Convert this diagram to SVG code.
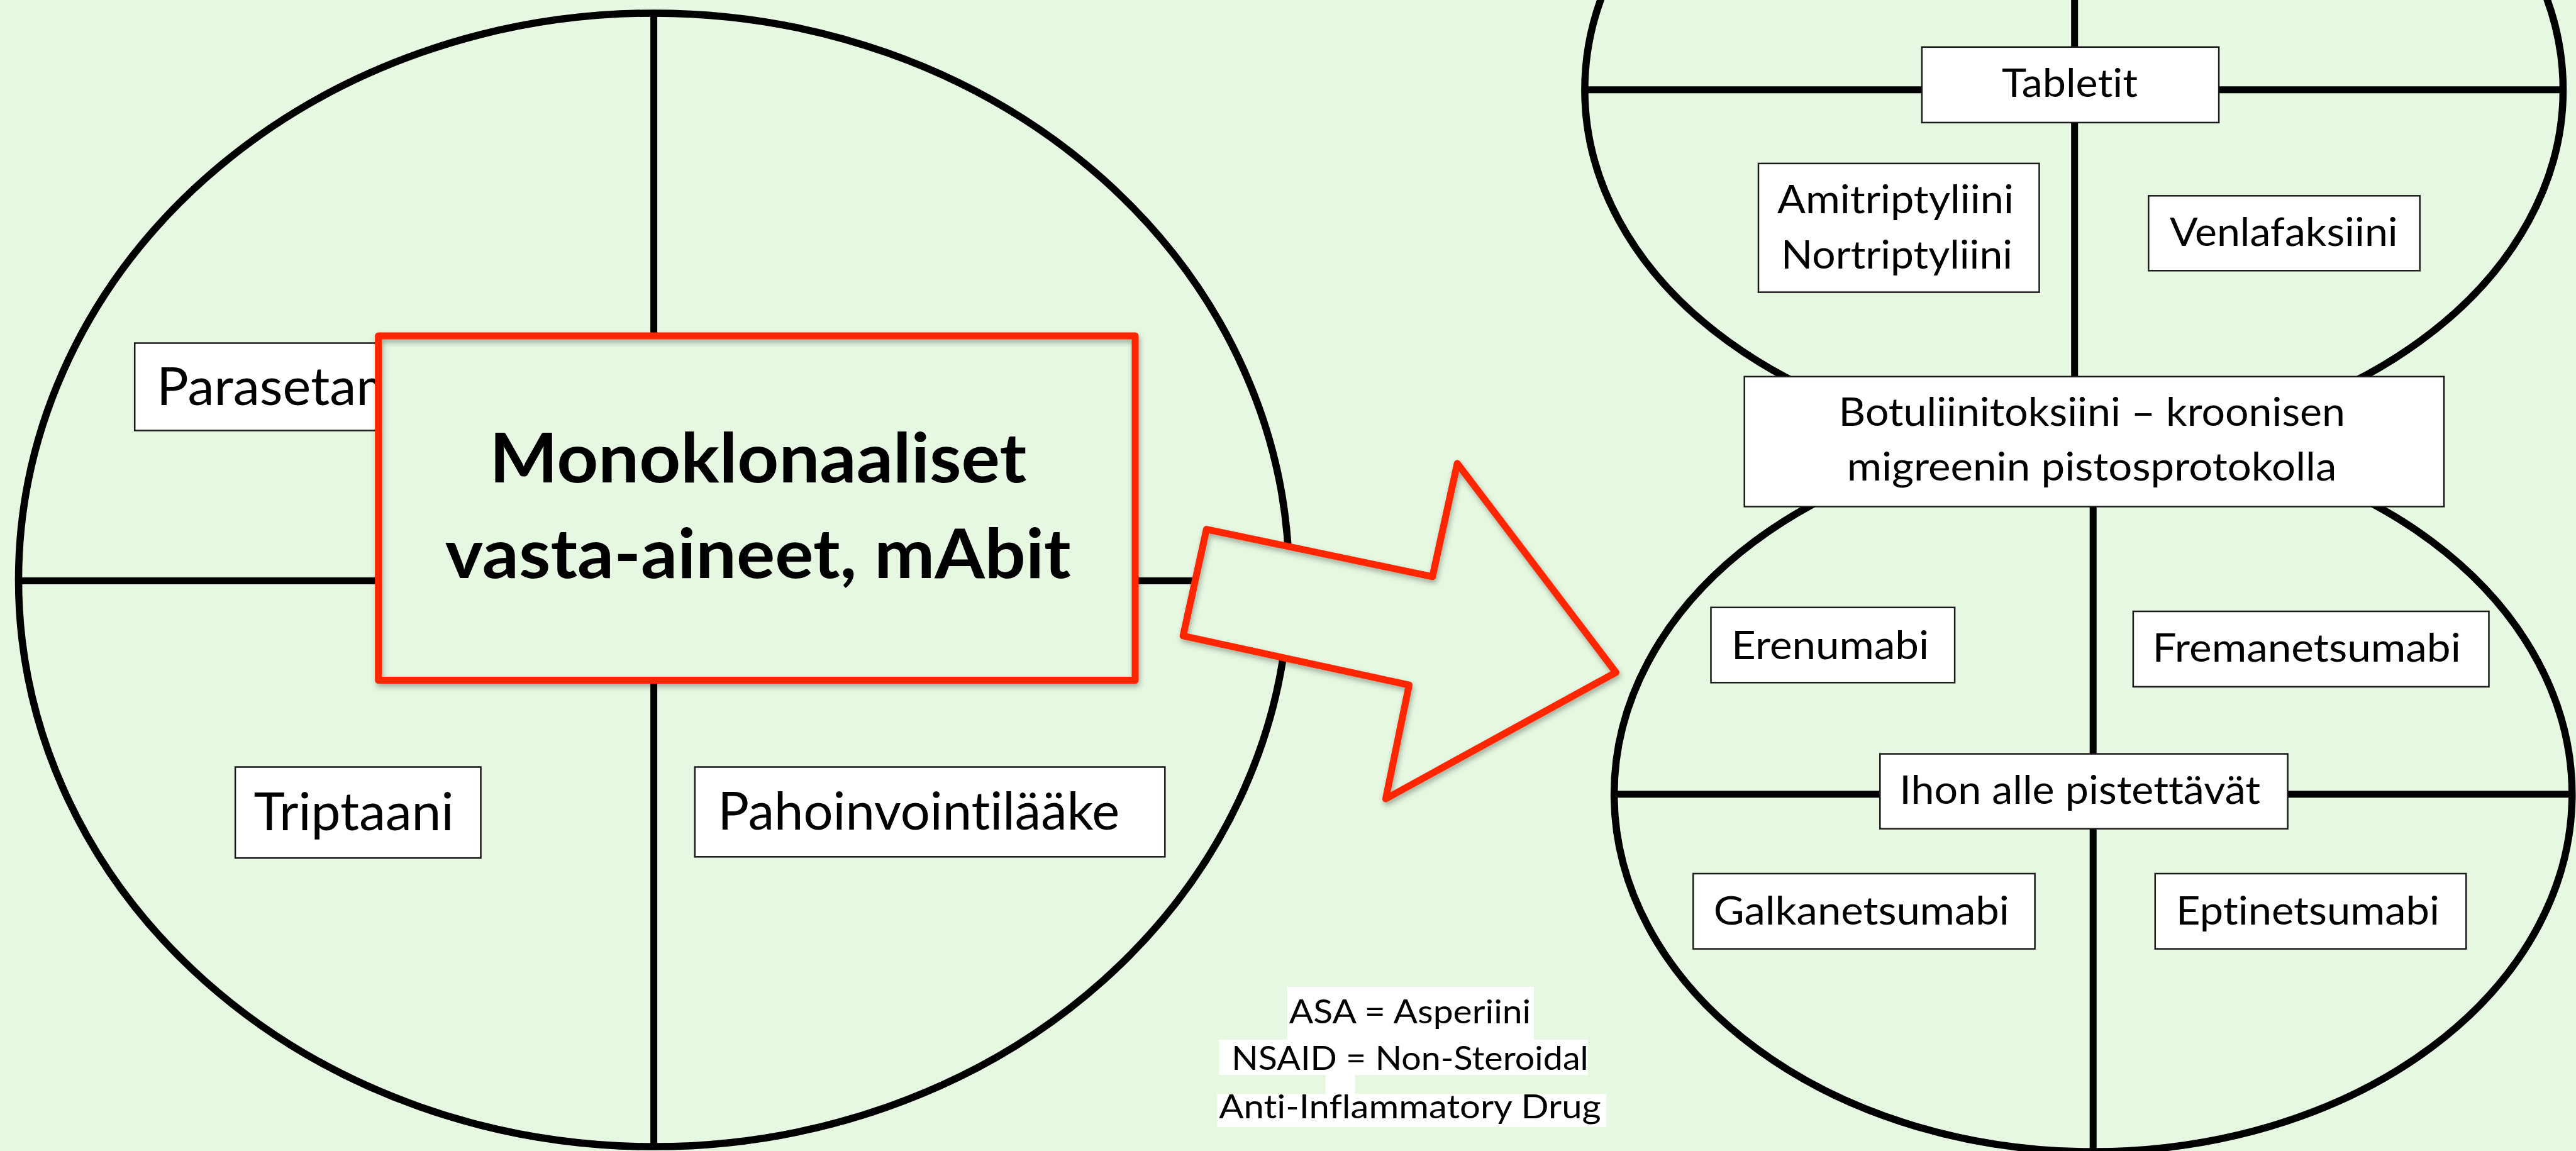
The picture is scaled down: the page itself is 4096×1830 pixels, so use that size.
<svg xmlns="http://www.w3.org/2000/svg" width="4096" height="1830" viewBox="0 0 4096 1830">
  <defs>
    <style>
      .bg { fill: #e6f8e1; }
      .ring { fill: #e6f8e1; stroke: #000; stroke-width: 11.5; }
      .rule { fill: none; stroke: #000; stroke-width: 11; }
      .box { fill: #fff; stroke: #1a1a1a; stroke-width: 2.5; }
      text { font-variant-ligatures: none; font-feature-settings: "liga" 0, "clig" 0, "dlig" 0; }
      .lbl { font-family: "Lato", "Liberation Sans", sans-serif; font-size: 83px; fill: #000; text-anchor: middle; }
      .lbl-r { font-size: 62px; }
      .note { font-family: "Lato", "Liberation Sans", sans-serif; font-size: 52px; fill: #000; text-anchor: middle; }
      .hero { font-family: "Lato", "Liberation Sans", sans-serif; font-weight: 700; font-size: 109px; fill: #000; text-anchor: middle; }
      .red-fill { fill: #e6f8e1; stroke: none; }
      .red-line { fill: none; stroke: #ff2600; stroke-width: 11; stroke-linejoin: round; }
    </style>
    <filter id="soft-shadow" x="-10%" y="-10%" width="120%" height="120%">
      <feDropShadow dx="2" dy="5" stdDeviation="4" flood-color="#000" flood-opacity="0.3"/>
    </filter>
  </defs>

  <rect class="bg" x="0" y="0" width="4096" height="1830"/>

  <!-- Left: acute-treatment circle -->
  <g id="acute-circle">
    <ellipse class="ring" cx="1039.6" cy="922" rx="1010.1" ry="901.1"/>
    <line class="rule" x1="1039.6" y1="21" x2="1039.6" y2="1823"/>
    <line class="rule" x1="29.5" y1="923.4" x2="2050" y2="923.4"/>
  </g>

  <g id="node-parasetamoli">
    <rect class="box" x="214.2" y="545.5" width="420" height="139"/>
    <text class="lbl" x="249" y="643.6" style="text-anchor:start" textLength="387" lengthAdjust="spacingAndGlyphs">Parasetam</text>
  </g>

  <g id="node-triptaani">
    <rect class="box" x="374.1" y="1219.5" width="390.4" height="144.7"/>
    <text class="lbl" x="562.6" y="1320.1" textLength="318" lengthAdjust="spacingAndGlyphs">Triptaani</text>
  </g>

  <g id="node-pahoinvointilaake">
    <rect class="box" x="1104.9" y="1219.5" width="747.4" height="142.8"/>
    <text class="lbl" x="1460.7" y="1318.5" textLength="639" lengthAdjust="spacingAndGlyphs">Pahoinvointilääke</text>
  </g>

  <g id="node-mabit">
    <rect class="red-fill" x="601.7" y="534" width="1203.3" height="547.5"/>
    <rect class="red-line" x="601.7" y="534" width="1203.3" height="547.5" filter="url(#soft-shadow)"/>
    <text class="hero" x="1205.2" y="766.8" textLength="854" lengthAdjust="spacingAndGlyphs">Monoklonaaliset</text>
    <text class="hero" x="1205.2" y="919.2" textLength="995" lengthAdjust="spacingAndGlyphs">vasta-aineet, mAbit</text>
  </g>

  <!-- Big block arrow between the two panels -->
  <g id="connectors">
    <polygon class="red-fill" points="1918.3,841.6 2277.7,916.8 2317.2,736.8 2569.4,1069.1 2203.4,1270 2240.5,1089.1 1881.2,1011"/>
    <polygon class="red-line" points="1918.3,841.6 2277.7,916.8 2317.2,736.8 2569.4,1069.1 2203.4,1270 2240.5,1089.1 1881.2,1011" filter="url(#soft-shadow)"/>
  </g>

  <!-- Abbreviation note -->
  <g id="note">
    <rect x="2046.8" y="1569" width="392.2" height="85" fill="#fff"/>
    <rect x="1938.3" y="1653" width="586.4" height="56" fill="#fff"/>
    <rect x="2107.7" y="1708" width="46.7" height="32" fill="#fff"/>
    <rect x="1935.4" y="1739.3" width="618.8" height="52.4" fill="#fff"/>
    <text class="note" x="2242" y="1627" textLength="384.6" lengthAdjust="spacingAndGlyphs">ASA = Asperiini</text>
    <text class="note" x="2242" y="1701.2" textLength="567.4" lengthAdjust="spacingAndGlyphs">NSAID = Non-Steroidal</text>
    <text class="note" x="2242" y="1778.3" textLength="607.4" lengthAdjust="spacingAndGlyphs">Anti-Inflammatory Drug</text>
  </g>

  <!-- Right: preventive-treatment figure eight -->
  <g id="tablet-circle">
    <ellipse class="ring" cx="3297.7" cy="142.8" rx="777.8" ry="565.5"/>
    <line class="rule" x1="2520" y1="142.8" x2="4075.5" y2="142.8"/>
    <line class="rule" x1="3298.7" y1="0" x2="3298.7" y2="600"/>
  </g>

  <g id="injection-circle">
    <ellipse class="ring" cx="3328.2" cy="1262.8" rx="761.6" ry="568.3"/>
    <line class="rule" x1="2566.6" y1="1262.8" x2="4089.8" y2="1262.8"/>
    <line class="rule" x1="3328.2" y1="805" x2="3328.2" y2="1830"/>
  </g>

  <g id="node-tabletit">
    <rect class="box" x="3055.9" y="74.8" width="472.2" height="120.1"/>
    <text class="lbl lbl-r" x="3291" y="154.2" textLength="216" lengthAdjust="spacingAndGlyphs">Tabletit</text>
  </g>

  <g id="node-tca">
    <rect class="box" x="2796" y="259.9" width="446.5" height="204.7"/>
    <text class="lbl lbl-r" x="3014" y="338.9" textLength="376" lengthAdjust="spacingAndGlyphs">Amitriptyliini</text>
    <text class="lbl lbl-r" x="3016" y="426.5" textLength="368" lengthAdjust="spacingAndGlyphs">Nortriptyliini</text>
  </g>

  <g id="node-venlafaksiini">
    <rect class="box" x="3416.3" y="311.3" width="431.4" height="119"/>
    <text class="lbl lbl-r" x="3631.4" y="391.3" textLength="362.7" lengthAdjust="spacingAndGlyphs">Venlafaksiini</text>
  </g>

  <g id="node-botuliini">
    <rect class="box" x="2773.7" y="598.8" width="1112.4" height="206.6"/>
    <text class="lbl lbl-r" x="3326.3" y="676.9" textLength="805.4" lengthAdjust="spacingAndGlyphs">Botuliinitoksiini – kroonisen</text>
    <text class="lbl lbl-r" x="3326" y="763.5" textLength="778.7" lengthAdjust="spacingAndGlyphs">migreenin pistosprotokolla</text>
  </g>

  <g id="node-erenumabi">
    <rect class="box" x="2720.5" y="965.8" width="387.6" height="119.5"/>
    <text class="lbl lbl-r" x="2910.1" y="1048" textLength="314.2" lengthAdjust="spacingAndGlyphs">Erenumabi</text>
  </g>

  <g id="node-fremanetsumabi">
    <rect class="box" x="3391.9" y="972" width="565.6" height="119.9"/>
    <text class="lbl lbl-r" x="3667.7" y="1052.4" textLength="490.3" lengthAdjust="spacingAndGlyphs">Fremanetsumabi</text>
  </g>

  <g id="node-ihon-alle">
    <rect class="box" x="2989.3" y="1198.6" width="648.3" height="119"/>
    <text class="lbl lbl-r" x="3307.2" y="1278.2" textLength="573.8" lengthAdjust="spacingAndGlyphs">Ihon alle pistettävät</text>
  </g>

  <g id="node-galkanetsumabi">
    <rect class="box" x="2692.3" y="1389" width="543.3" height="119.6"/>
    <text class="lbl lbl-r" x="2959.8" y="1469.9" textLength="470.3" lengthAdjust="spacingAndGlyphs">Galkanetsumabi</text>
  </g>

  <g id="node-eptinetsumabi">
    <rect class="box" x="3426.8" y="1389" width="494.5" height="119.6"/>
    <text class="lbl lbl-r" x="3669.5" y="1469.9" textLength="418.9" lengthAdjust="spacingAndGlyphs">Eptinetsumabi</text>
  </g>
</svg>
